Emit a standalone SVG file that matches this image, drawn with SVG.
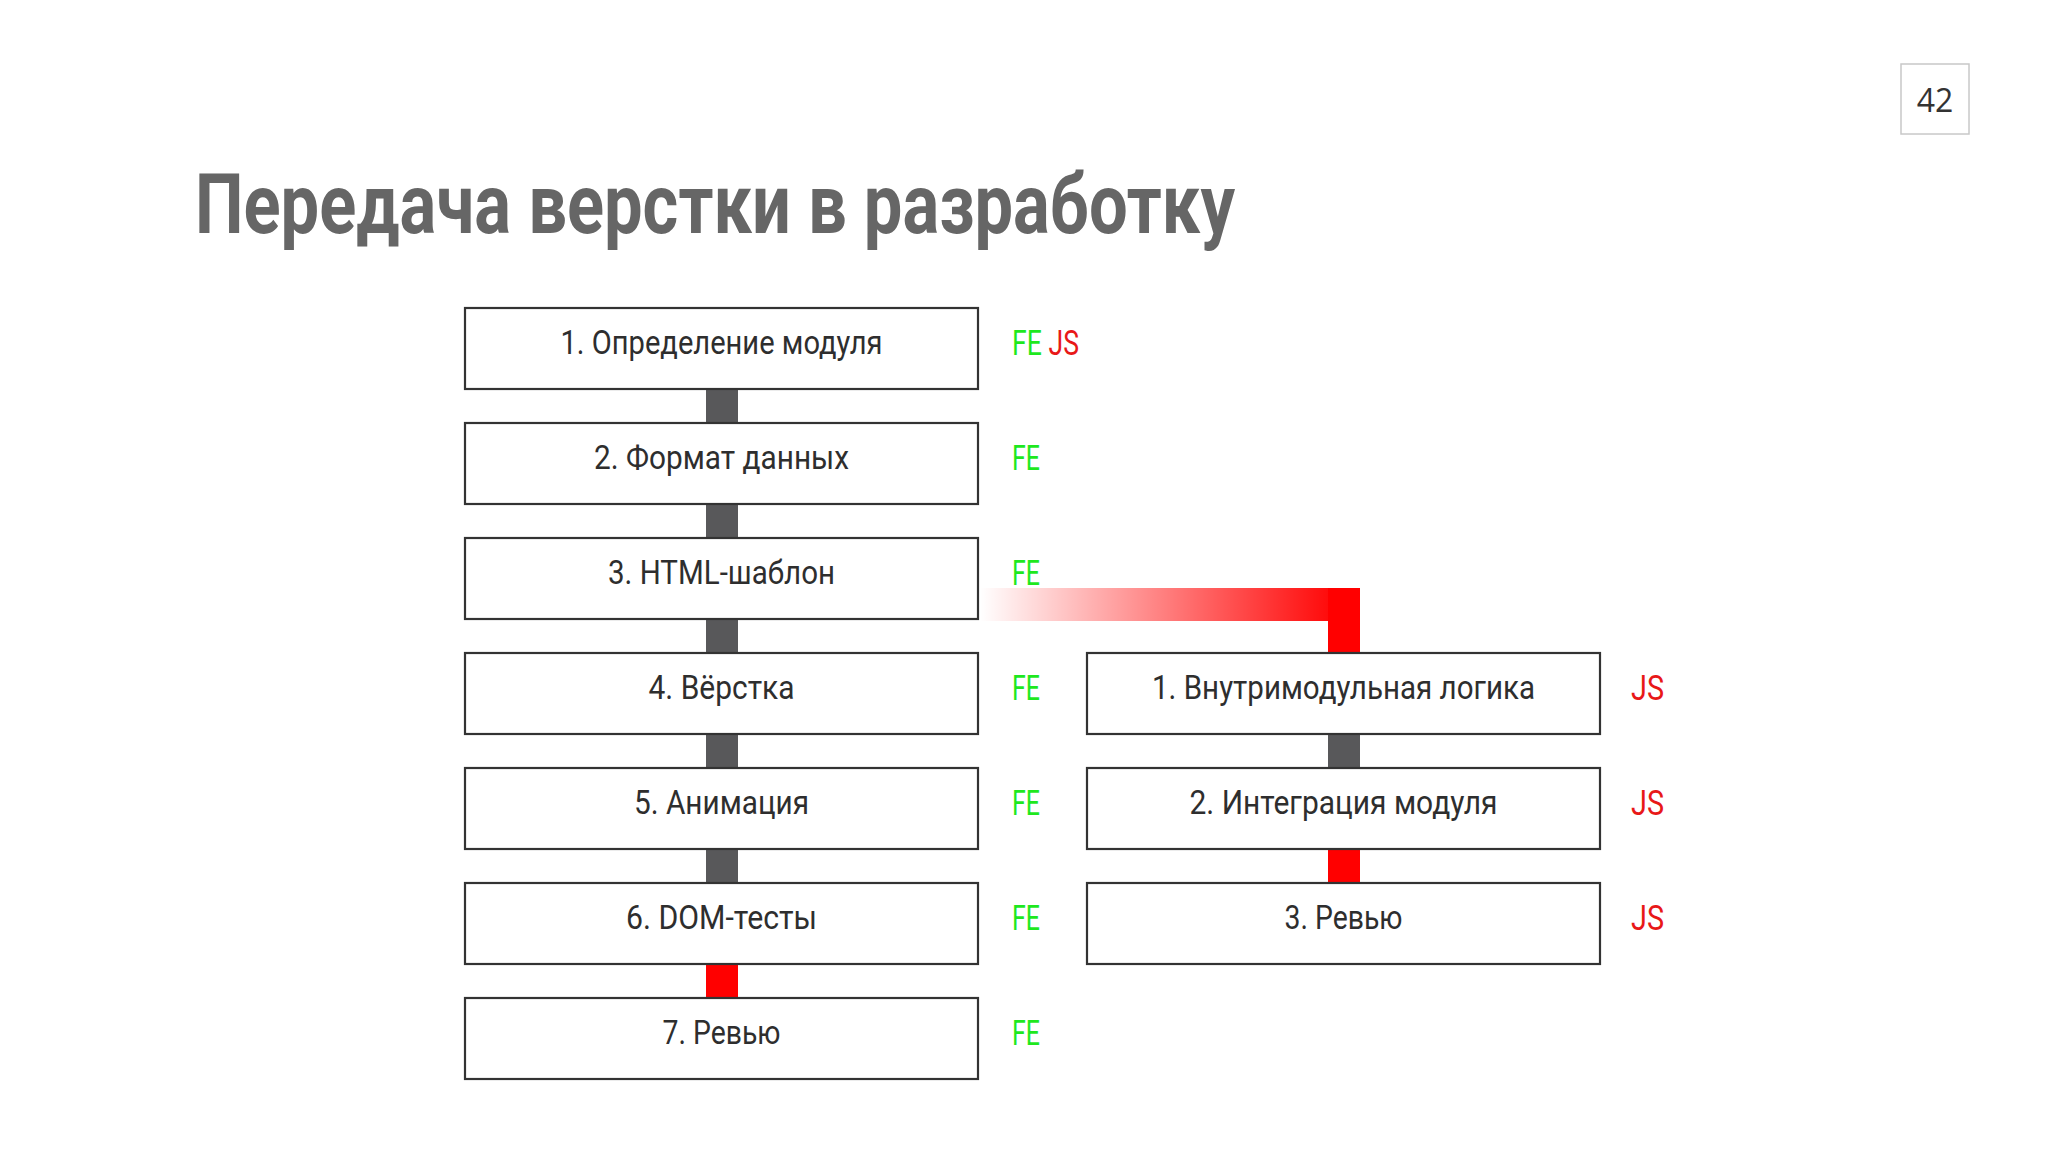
<svg xmlns="http://www.w3.org/2000/svg" width="2048" height="1152" viewBox="0 0 2048 1152">
  <defs>
    <style>
      .box { fill: #ffffff; stroke: #333333; stroke-width: 2.2; }
      .t { font-family: Roboto, "Liberation Sans", sans-serif; font-size: 34px; fill: #2e2e2e; text-anchor: middle; }
      .lbl { font-family: Roboto, "Liberation Sans", sans-serif; font-size: 35px; }
      .fe { font-family: Roboto, "Liberation Sans", sans-serif; font-size: 35px; fill: #1ee81e; }
      .js { font-family: Roboto, "Liberation Sans", sans-serif; font-size: 35px; fill: #e81818; }
      .gray { fill: #58585a; }
      .red { fill: #ff0000; }
      .title { font-family: Roboto, "Liberation Sans", sans-serif; font-weight: 700; font-size: 84px; fill: #666666; }
    </style>
    <linearGradient id="fade" x1="980" y1="0" x2="1345" y2="0" gradientUnits="userSpaceOnUse">
      <stop offset="0" stop-color="#ff0000" stop-opacity="0"/>
      <stop offset="1" stop-color="#ff0000" stop-opacity="1"/>
    </linearGradient>
  </defs>
  <rect width="2048" height="1152" fill="#ffffff"/>

  <g id="page-number">
    <rect x="1901" y="64" width="68" height="70" fill="#ffffff" stroke="#c8c8c8" stroke-width="1.5"/>
    <text x="1935" y="112" font-family="'Open Sans', 'Noto Sans', sans-serif" font-size="32" fill="#333333" text-anchor="middle">42</text>
  </g>

  <g id="title">
    <text class="title" x="195" y="233" textLength="1040" lengthAdjust="spacingAndGlyphs">Передача верстки в разработку</text>
  </g>

  <g id="connectors">
    <rect class="gray" x="706" y="389" width="32" height="34"/>
    <rect class="gray" x="706" y="504" width="32" height="34"/>
    <rect class="gray" x="706" y="619" width="32" height="34"/>
    <rect class="gray" x="706" y="734" width="32" height="34"/>
    <rect class="gray" x="706" y="849" width="32" height="34"/>
    <rect class="red" x="706" y="964" width="32" height="34"/>
    <rect x="979" y="588" width="381" height="33" fill="url(#fade)"/>
    <rect class="red" x="1328" y="588" width="32" height="65"/>
    <rect class="gray" x="1328" y="734" width="32" height="34"/>
    <rect class="red" x="1328" y="849" width="32" height="34"/>
  </g>

  <g id="fe-1">
    <rect class="box" x="465" y="308" width="513" height="81"/>
    <text class="t" x="721.5" y="354" textLength="322" lengthAdjust="spacingAndGlyphs">1. Определение модуля</text>
    <text class="lbl" x="1012" y="355" textLength="67" lengthAdjust="spacingAndGlyphs"><tspan fill="#1ee81e">FE</tspan> <tspan fill="#e81818">JS</tspan></text>
  </g>
  <g id="fe-2">
    <rect class="box" x="465" y="423" width="513" height="81"/>
    <text class="t" x="721.5" y="469" textLength="255" lengthAdjust="spacingAndGlyphs">2. Формат данных</text>
    <text class="fe" x="1012" y="470" textLength="28" lengthAdjust="spacingAndGlyphs">FE</text>
  </g>
  <g id="fe-3">
    <rect class="box" x="465" y="538" width="513" height="81"/>
    <text class="t" x="721.5" y="584" textLength="227" lengthAdjust="spacingAndGlyphs">3. HTML-шаблон</text>
    <text class="fe" x="1012" y="585" textLength="28" lengthAdjust="spacingAndGlyphs">FE</text>
  </g>
  <g id="fe-4">
    <rect class="box" x="465" y="653" width="513" height="81"/>
    <text class="t" x="721.5" y="699" textLength="146" lengthAdjust="spacingAndGlyphs">4. Вёрстка</text>
    <text class="fe" x="1012" y="700" textLength="28" lengthAdjust="spacingAndGlyphs">FE</text>
  </g>
  <g id="fe-5">
    <rect class="box" x="465" y="768" width="513" height="81"/>
    <text class="t" x="721.5" y="814" textLength="175" lengthAdjust="spacingAndGlyphs">5. Анимация</text>
    <text class="fe" x="1012" y="815" textLength="28" lengthAdjust="spacingAndGlyphs">FE</text>
  </g>
  <g id="fe-6">
    <rect class="box" x="465" y="883" width="513" height="81"/>
    <text class="t" x="721.5" y="929" textLength="191" lengthAdjust="spacingAndGlyphs">6. DOM-тесты</text>
    <text class="fe" x="1012" y="930" textLength="28" lengthAdjust="spacingAndGlyphs">FE</text>
  </g>
  <g id="fe-7">
    <rect class="box" x="465" y="998" width="513" height="81"/>
    <text class="t" x="721.5" y="1044" textLength="118" lengthAdjust="spacingAndGlyphs">7. Ревью</text>
    <text class="fe" x="1012" y="1045" textLength="28" lengthAdjust="spacingAndGlyphs">FE</text>
  </g>

  <g id="js-1">
    <rect class="box" x="1087" y="653" width="513" height="81"/>
    <text class="t" x="1343.5" y="699" textLength="383" lengthAdjust="spacingAndGlyphs">1. Внутримодульная логика</text>
    <text class="js" x="1631" y="700" textLength="33" lengthAdjust="spacingAndGlyphs">JS</text>
  </g>
  <g id="js-2">
    <rect class="box" x="1087" y="768" width="513" height="81"/>
    <text class="t" x="1343.5" y="814" textLength="308" lengthAdjust="spacingAndGlyphs">2. Интеграция модуля</text>
    <text class="js" x="1631" y="815" textLength="33" lengthAdjust="spacingAndGlyphs">JS</text>
  </g>
  <g id="js-3">
    <rect class="box" x="1087" y="883" width="513" height="81"/>
    <text class="t" x="1343.5" y="929" textLength="118" lengthAdjust="spacingAndGlyphs">3. Ревью</text>
    <text class="js" x="1631" y="930" textLength="33" lengthAdjust="spacingAndGlyphs">JS</text>
  </g>
</svg>
